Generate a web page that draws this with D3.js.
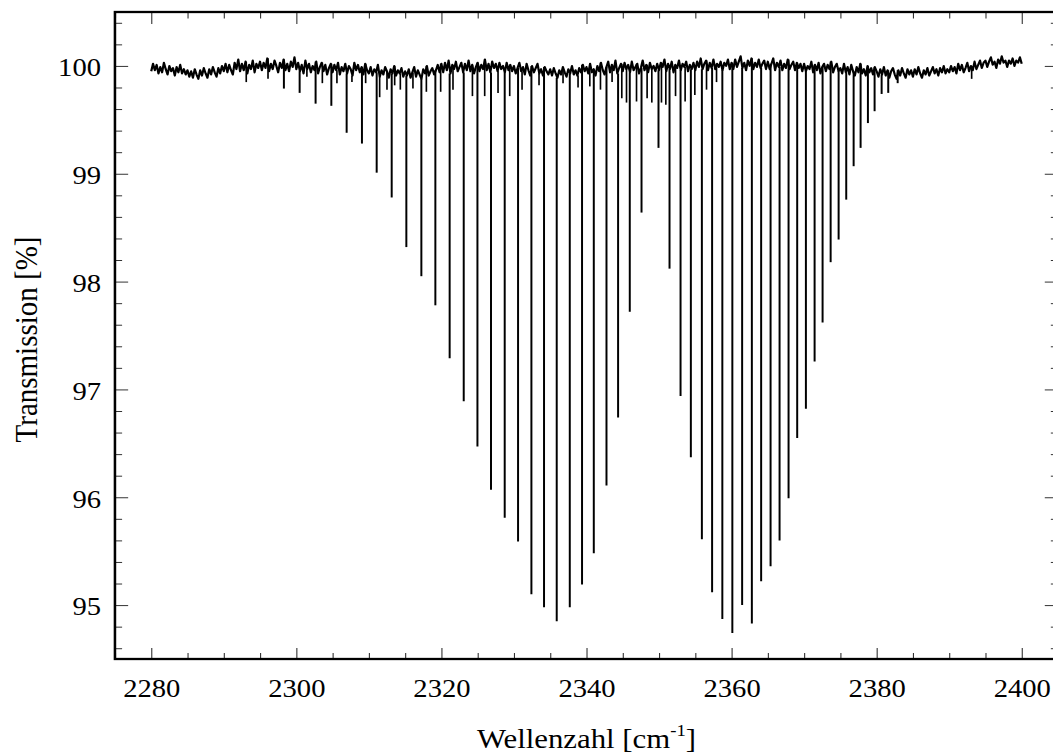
<!DOCTYPE html>
<html>
<head>
<meta charset="utf-8">
<script src="https://cdn.jsdelivr.net/npm/d3@7/dist/d3.min.js"></script>
<style>
    body { margin: 0; background: #fff; }
    svg { display: block; }
    .tick line { stroke: #333; stroke-width: 1; }
</style>
</head>
<body>
<div id="viz"></div>
<script>
// measured baseline (noise included), one value every 0.25 cm-1 from 2280 to 2400
const baseStart = 2280;
const baseStep = 0.25;
const baseline = [
    99.95,100.02,99.96,100.01,99.93,99.99,99.94,100.03,99.97,99.92,100.00,99.95,99.98,99.91,99.99,99.94,100.01,99.93,99.97,99.92,
    99.96,99.90,99.95,99.89,99.97,99.92,99.88,99.96,99.91,99.98,99.93,99.89,99.97,99.92,99.99,99.94,99.90,99.98,99.93,100.00,
    99.95,100.02,99.94,100.01,99.96,99.92,100.03,99.97,100.06,99.95,100.02,99.96,100.04,99.93,100.01,99.97,100.05,99.94,100.02,99.98,
    100.04,99.96,100.03,99.98,100.07,99.95,100.02,99.97,100.05,100.00,99.94,100.03,99.98,100.06,99.96,100.02,99.95,100.04,99.99,100.08,
    99.97,100.03,99.95,100.01,99.93,100.05,99.97,100.02,99.94,100.00,99.96,100.04,99.93,99.99,100.03,99.95,100.01,99.92,99.98,100.02,
    99.94,100.01,99.96,100.03,99.92,99.99,99.95,100.02,99.93,100.00,99.97,99.91,100.03,99.96,100.01,99.94,99.99,99.92,100.02,99.96,
    99.93,99.99,99.91,99.97,99.94,100.01,99.90,99.96,99.92,99.99,99.95,99.89,99.97,99.93,100.00,99.91,99.96,99.93,99.98,99.90,
    99.95,99.91,99.97,99.89,99.94,99.99,99.90,99.96,99.92,99.88,99.97,99.93,100.00,99.91,99.95,99.98,99.92,99.96,100.01,99.94,
    100.02,99.94,100.03,99.96,100.05,99.93,100.01,99.97,100.04,99.95,99.99,100.03,99.94,100.02,99.96,100.05,99.95,100.01,99.93,99.99,
    100.03,99.95,100.01,99.97,100.06,99.96,100.02,99.94,100.04,99.98,100.02,99.95,100.03,99.97,100.00,99.94,100.03,99.96,100.01,99.95,
    100.00,99.93,99.98,100.03,99.95,99.99,99.92,100.02,99.96,99.91,100.00,99.94,99.98,100.02,99.93,99.97,99.91,99.99,99.95,99.92,
    99.97,99.91,99.98,99.93,99.89,99.96,99.92,99.99,99.94,99.90,99.97,99.93,100.00,99.92,99.96,99.91,99.98,99.94,100.01,99.95,
    99.99,99.93,100.02,99.94,99.97,99.91,100.00,99.95,100.03,99.96,99.92,99.99,100.04,99.94,100.01,99.96,100.05,99.93,99.98,100.02,
    99.95,100.03,99.97,100.01,99.94,100.04,99.96,99.99,100.02,99.93,99.98,100.05,99.96,100.01,99.94,100.03,99.97,100.00,99.95,100.02,
    99.96,100.03,99.99,100.06,99.95,100.02,99.97,100.04,99.94,100.01,99.98,100.05,99.96,100.02,99.99,100.04,99.95,100.01,99.97,100.03,
    99.96,100.04,99.99,100.07,99.97,100.02,100.05,99.96,100.03,99.98,100.06,99.97,100.02,99.99,100.04,99.96,100.03,100.00,100.06,99.97,
    100.03,99.97,100.06,99.99,100.04,100.09,99.98,100.03,99.96,100.05,100.00,100.07,99.97,100.03,99.99,100.06,99.98,100.02,100.05,99.97,
    100.04,99.97,100.02,100.07,99.96,100.03,99.99,100.05,99.96,100.02,99.98,100.06,99.97,100.01,100.04,99.96,100.03,99.98,100.02,99.95,
    100.02,99.95,100.00,99.97,100.04,99.94,100.01,99.96,100.03,99.93,99.99,100.02,99.95,100.01,99.97,100.04,99.94,99.99,100.02,99.95,
    99.98,99.93,100.02,99.94,99.99,99.92,100.01,99.95,99.91,99.99,99.94,100.02,99.93,99.97,99.91,100.00,99.94,99.98,99.92,99.99,
    99.95,99.90,99.97,99.92,99.99,99.91,99.96,99.89,99.95,99.98,99.92,99.88,99.96,99.91,99.98,99.93,99.89,99.97,99.92,99.96,
    99.90,99.97,99.92,99.99,99.93,99.89,99.96,99.92,99.98,99.91,99.95,99.99,99.93,99.97,99.91,99.98,99.94,100.00,99.93,99.97,
    99.94,100.00,99.95,99.99,99.93,100.02,99.96,100.01,99.94,99.98,100.03,99.95,100.00,99.96,100.04,99.97,100.01,100.05,99.98,100.03,
    100.05,99.99,100.04,100.08,100.01,100.04,99.98,100.06,100.02,100.09,100.03,100.05,99.99,100.05,100.02,100.07,100.00,100.05,100.03,100.08,
    100.02
];

// P branch: line position [cm-1] and transmission at the line minimum [%]
const pBranchPos = [2298.29, 2300.46, 2302.66, 2304.83, 2306.94, 2309.05, 2311.08, 2313.15, 2315.17, 2317.24,
    2319.17, 2321.14, 2323.08, 2324.97, 2326.84, 2328.73, 2330.57, 2332.41, 2334.15, 2335.90,
    2337.70, 2339.39, 2341.01, 2342.76, 2344.36, 2345.97, 2347.59];
const pBranchMin = [99.79, 99.75, 99.65, 99.63, 99.38, 99.28, 99.01, 98.78, 98.32, 98.05,
    97.78, 97.29, 96.89, 96.47, 96.07, 95.81, 95.59, 95.10, 94.98, 94.85,
    94.98, 95.19, 95.48, 96.11, 96.74, 97.72, 98.64];

// R branch
const rBranchPos = [2349.93, 2351.45, 2352.97, 2354.39, 2355.91, 2357.32, 2358.73, 2360.11, 2361.46, 2362.80,
    2364.08, 2365.38, 2366.62, 2367.86, 2369.05, 2370.25, 2371.45, 2372.55, 2373.66, 2374.76,
    2375.81, 2376.83, 2377.79, 2378.80, 2379.72, 2380.69, 2381.60, 2382.90];
const rBranchMin = [99.24, 98.12, 96.94, 96.37, 95.61, 95.12, 94.87, 94.74, 95.00, 94.83,
    95.22, 95.36, 95.60, 95.99, 96.55, 96.82, 97.26, 97.62, 98.18, 98.39,
    98.76, 99.07, 99.24, 99.47, 99.58, 99.74, 99.75, 99.84];

// weak (hot band) lines
const weakPos = [2293.10, 2296.10, 2301.46, 2303.59, 2305.60, 2307.67, 2309.56, 2311.49, 2312.50, 2313.56,
    2314.34, 2316.08, 2317.93, 2319.90, 2321.60, 2324.28, 2325.97, 2327.81, 2329.42, 2331.12,
    2333.46, 2336.77, 2338.84, 2340.46, 2341.93, 2343.53, 2344.87, 2345.52, 2346.90, 2348.36,
    2349.01, 2350.34, 2350.94, 2352.28, 2353.60, 2354.94, 2356.55, 2357.93, 2393.10];
const weakMin = [99.85, 99.88, 99.90, 99.84, 99.84, 99.85, 99.84, 99.71, 99.78, 99.82,
    99.78, 99.79, 99.76, 99.76, 99.78, 99.72, 99.72, 99.75, 99.72, 99.78,
    99.82, 99.84, 99.80, 99.81, 99.78, 99.85, 99.70, 99.66, 99.67, 99.70,
    99.66, 99.66, 99.64, 99.72, 99.67, 99.73, 99.78, 99.85, 99.88];

const xTicks = [2280, 2300, 2320, 2340, 2360, 2380, 2400];
const yTicks = [95, 96, 97, 98, 99, 100];
const xDomain = [2275, 2405];
const yDomain = [94.5, 100.5];

const width = 1053;
const height = 756;
const serif = "'Liberation Serif', serif";
// the original picture is slightly wider than tall in its glyphs: draw in a stretched frame
const stretch = 1.1;

const svg = d3.select("#viz")
    .append("svg")
    .attr("width", width)
    .attr("height", height);

const g = svg.append("g")
    .attr("transform", `scale(${stretch}, 1)`);

const plot = {left: 104.5, right: 961.8, top: 12, bottom: 659};

const xScale = d3.scaleLinear()
    .domain(xDomain)
    .range([plot.left, plot.right]);

const yScale = d3.scaleLinear()
    .domain(yDomain)
    .range([plot.bottom, plot.top]);

const xMinor = d3.range(xDomain[0], xDomain[1] + 1, 5).filter(v => v % 20 !== 0);
const yMinor = d3.range(473, 503).map(k => k / 5).filter(v => !Number.isInteger(v));

// spectrum: noisy baseline
const line = d3.line()
    .x((d, i) => xScale(baseStart + i * baseStep))
    .y(d => yScale(d));

g.append("path")
    .datum(baseline)
    .attr("d", line)
    .attr("fill", "none")
    .attr("stroke", "#000")
    .attr("stroke-width", 2)
    .attr("stroke-linejoin", "round");

// absorption lines hang from the baseline
const baseAt = v => baseline[Math.round((v - baseStart) / baseStep)];
const lines = []
    .concat(weakPos.map((v, i) => ({v, t: weakMin[i], w: 1.5})))
    .concat(pBranchPos.map((v, i) => ({v, t: pBranchMin[i], w: 1.8})))
    .concat(rBranchPos.map((v, i) => ({v, t: rBranchMin[i], w: 1.8})));

g.selectAll("line.absorb").data(lines)
    .enter().append("line")
        .attr("class", "absorb")
        .attr("x1", d => xScale(d.v))
        .attr("x2", d => xScale(d.v))
        .attr("y1", d => yScale(baseAt(d.v)))
        .attr("y2", d => yScale(d.t))
        .attr("stroke", "#000")
        .attr("stroke-width", d => d.w);

// axes, ticks pointing inwards on all four sides
const bottomAxis = g.append("g")
    .attr("transform", `translate(0, ${plot.bottom})`)
    .call(d3.axisBottom(xScale).tickValues(xTicks).tickSize(-11).tickPadding(20).tickFormat(d3.format("d")));
g.append("g")
    .attr("transform", `translate(0, ${plot.bottom})`)
    .call(d3.axisBottom(xScale).tickValues(xMinor).tickSize(-6).tickFormat(""));

g.append("g")
    .attr("transform", `translate(0, ${plot.top})`)
    .call(d3.axisTop(xScale).tickValues(xTicks).tickSize(-12).tickFormat(""));
g.append("g")
    .attr("transform", `translate(0, ${plot.top})`)
    .call(d3.axisTop(xScale).tickValues(xMinor).tickSize(-6.5).tickFormat(""));

const leftAxis = g.append("g")
    .attr("transform", `translate(${plot.left}, 0)`)
    .call(d3.axisLeft(yScale).tickValues(yTicks).tickSize(-12).tickPadding(12.7).tickFormat(d3.format("d")));
leftAxis.selectAll("text").attr("dy", "0.38em");
g.append("g")
    .attr("transform", `translate(${plot.left}, 0)`)
    .call(d3.axisLeft(yScale).tickValues(yMinor).tickSize(-6.5).tickFormat(""));

g.append("g")
    .attr("transform", `translate(${plot.right}, 0)`)
    .call(d3.axisRight(yScale).tickValues(yTicks).tickSize(-12).tickFormat(""));
g.append("g")
    .attr("transform", `translate(${plot.right}, 0)`)
    .call(d3.axisRight(yScale).tickValues(yMinor).tickSize(-6.5).tickFormat(""));

g.selectAll(".domain").remove();

[bottomAxis, leftAxis].forEach(ax => ax.selectAll("text")
    .style("font-family", serif)
    .style("font-size", "26px")
    .attr("fill", "#000"));

g.append("rect")
    .attr("x", plot.left)
    .attr("y", plot.top)
    .attr("width", plot.right - plot.left)
    .attr("height", plot.bottom - plot.top)
    .attr("fill", "none")
    .attr("stroke", "#000")
    .attr("stroke-width", 2.3);

// axis titles
const xTitle = g.append("text")
    .attr("x", (plot.left + plot.right) / 2)
    .attr("y", 748)
    .attr("text-anchor", "middle")
    .style("font-family", serif)
    .style("font-size", "28px")
    .attr("fill", "#000");
xTitle.append("tspan").text("Wellenzahl [cm");
xTitle.append("tspan").style("font-size", "17px").attr("dy", -12).text("-1");
xTitle.append("tspan").attr("dy", 12).text("]");

g.append("text")
    .attr("transform", `translate(33.4, ${(plot.top + plot.bottom) / 2 + 4}) rotate(-90)`)
    .attr("text-anchor", "middle")
    .style("font-family", serif)
    .style("font-size", "29px")
    .attr("fill", "#000")
    .text("Transmission [%]");
</script>
</body>
</html>
